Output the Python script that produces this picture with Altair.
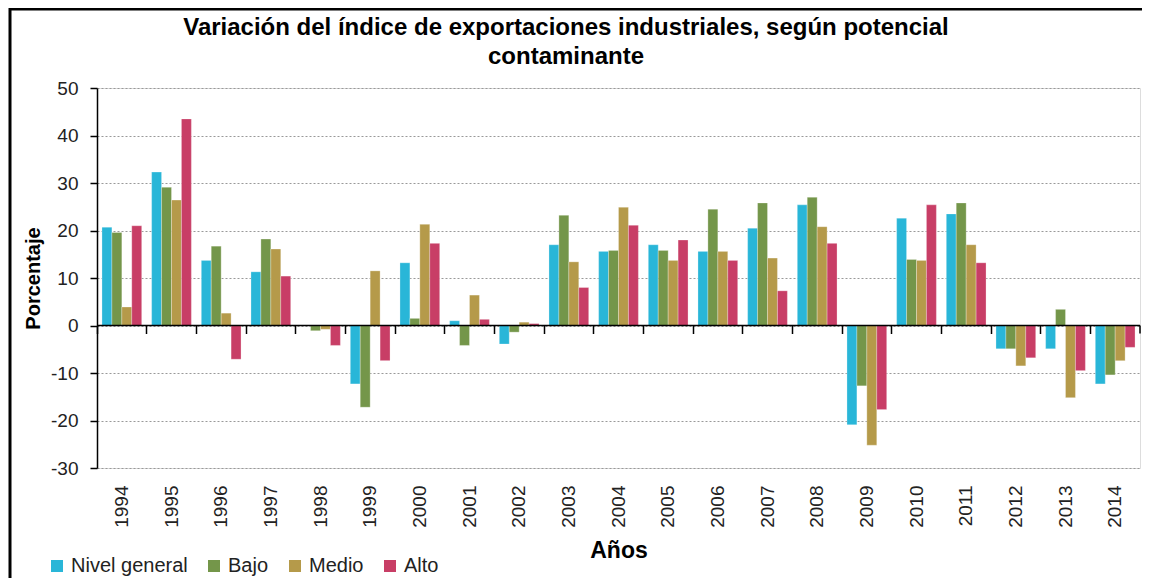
import altair as alt
import pandas as pd

years = [str(y) for y in range(1994, 2015)]
series = ["Nivel general", "Bajo", "Medio", "Alto"]
colors = ["#29b6d8", "#74964a", "#b59a4a", "#c83e66"]
title_lines = ["Variación del índice de exportaciones industriales, según potencial",
               "contaminante"]

nivel_general = [20.7, 32.3, 13.7, 11.3, 0.0, -12.3, 13.2, 1.0, -3.9, 17.0, 15.6, 17.0, 15.6, 20.5, 25.4, -20.9, 22.6, 23.5, -4.9, -4.9, -12.3]
bajo = [19.6, 29.1, 16.7, 18.2, -1.1, -17.2, 1.5, -4.2, -1.4, 23.2, 15.8, 15.8, 24.5, 25.8, 27.0, -12.7, 13.9, 25.8, -4.9, 3.4, -10.4]
medio = [3.9, 26.4, 2.6, 16.1, -0.8, 11.5, 21.3, 6.4, 0.7, 13.4, 24.9, 13.7, 15.6, 14.2, 20.8, -25.2, 13.7, 17.0, -8.5, -15.2, -7.4]
alto = [21.0, 43.5, -7.1, 10.4, -4.2, -7.4, 17.3, 1.3, 0.4, 8.0, 21.1, 18.0, 13.7, 7.3, 17.3, -17.7, 25.4, 13.2, -6.8, -9.5, -4.6]

rows = []
for name, vals in zip(series, [nivel_general, bajo, medio, alto]):
    for y, v in zip(years, vals):
        rows.append({"Año": y, "Serie": name, "Valor": v})
df = pd.DataFrame(rows)

W, H = 1043, 380
FONT = "Liberation Sans"
ZERO_PX = H * 50 / 80

xscale = alt.Scale(domain=years, paddingInner=0, paddingOuter=0)
yscale = alt.Scale(domain=[-30, 50], nice=False)

bars = alt.Chart(df).mark_bar(stroke="white", strokeOpacity=0.35, strokeWidth=0.8).encode(
    x=alt.X("Año:N", scale=xscale, sort=years,
            axis=alt.Axis(title="Años", orient="bottom", labelAngle=-90, labelFontSize=19,
                          labelFont=FONT, labelColor="#222", labelPadding=17,
                          domain=False, ticks=False,
                          titleFontSize=23, titleFont=FONT, titleFontWeight="bold",
                          titleColor="#000", titlePadding=12, grid=False)),
    xOffset=alt.XOffset("Serie:N", sort=series,
                        scale=alt.Scale(domain=series, paddingInner=0, paddingOuter=0.5)),
    y=alt.Y("Valor:Q", scale=yscale,
            axis=alt.Axis(title="Porcentaje", values=list(range(-30, 51, 10)),
                          labelExpr="toString(datum.value)",
                          labelFontSize=19, labelFont=FONT, labelColor="#222",
                          domainColor="#000", domainWidth=1.5, tickColor="#000",
                          tickSize=7, tickWidth=1.5, labelPadding=12,
                          gridColor="#999", gridDash=[2, 2], gridWidth=1,
                          titleFontSize=20, titleFont=FONT, titleFontWeight="bold",
                          titleColor="#000", titlePadding=7)),
    color=alt.Color("Serie:N", sort=series,
                    scale=alt.Scale(domain=series, range=colors),
                    legend=alt.Legend(title=None, orient="none", direction="horizontal",
                                      legendX=-50, legendY=468, symbolType="square",
                                      symbolSize=144, symbolStrokeWidth=0,
                                      labelFontSize=20, labelFont=FONT, labelColor="#222",
                                      labelOffset=4, columnPadding=16)),
)

zero = alt.Chart(pd.DataFrame({"v": [0]})).mark_rule(
    color="#000", strokeWidth=1.5).encode(
    x=alt.value(0), x2=alt.value(W),
    y=alt.Y("v:Q", scale=yscale),
)

end_tick = alt.Chart(pd.DataFrame({"v": [0]})).mark_rule(
    color="#000", strokeWidth=1.5).encode(
    x=alt.value(W), y=alt.Y("v:Q", scale=yscale), y2=alt.value(ZERO_PX + 8),
)

zero_ticks = alt.Chart(pd.DataFrame({"Año": years, "v": [0] * len(years)})).mark_tick(
    opacity=0).encode(
    x=alt.X("Año:N", scale=xscale, sort=years,
            axis=alt.Axis(title=None, orient="bottom", labels=False, domain=False,
                          ticks=True, bandPosition=0, tickSize=8, tickColor="#000",
                          tickWidth=1.5, offset=-H * 30 / 80, grid=False)),
    y=alt.Y("v:Q", scale=yscale),
)

title1 = alt.Chart(pd.DataFrame({"t": title_lines[:1]})).mark_text(
    font=FONT, fontWeight="bold", fontSize=24, color="#000", align="center",
    baseline="middle").encode(text="t:N", x=alt.value(469), y=alt.value(-60))
title2 = alt.Chart(pd.DataFrame({"t": title_lines[1:]})).mark_text(
    font=FONT, fontWeight="bold", fontSize=24, color="#000", align="center",
    baseline="middle").encode(text="t:N", x=alt.value(469), y=alt.value(-31))

frame = alt.Chart(pd.DataFrame({"a": [0]})).mark_rect(
    fill=None, stroke="#000", strokeWidth=3).encode(
    x=alt.value(-87), x2=alt.value(1100), y=alt.value(-79), y2=alt.value(600))

chart = alt.layer(bars, zero, end_tick, zero_ticks, title1, title2, frame).resolve_axis(
    x="independent").properties(
    width=W, height=H,
    autosize=alt.AutoSizeParams(type="none"),
    padding={"left": 89, "top": 80, "right": 2, "bottom": 110},
).configure_view(stroke=None).configure(background="white")

chart.save("out.html", embed_options={"renderer": "svg", "actions": False})
